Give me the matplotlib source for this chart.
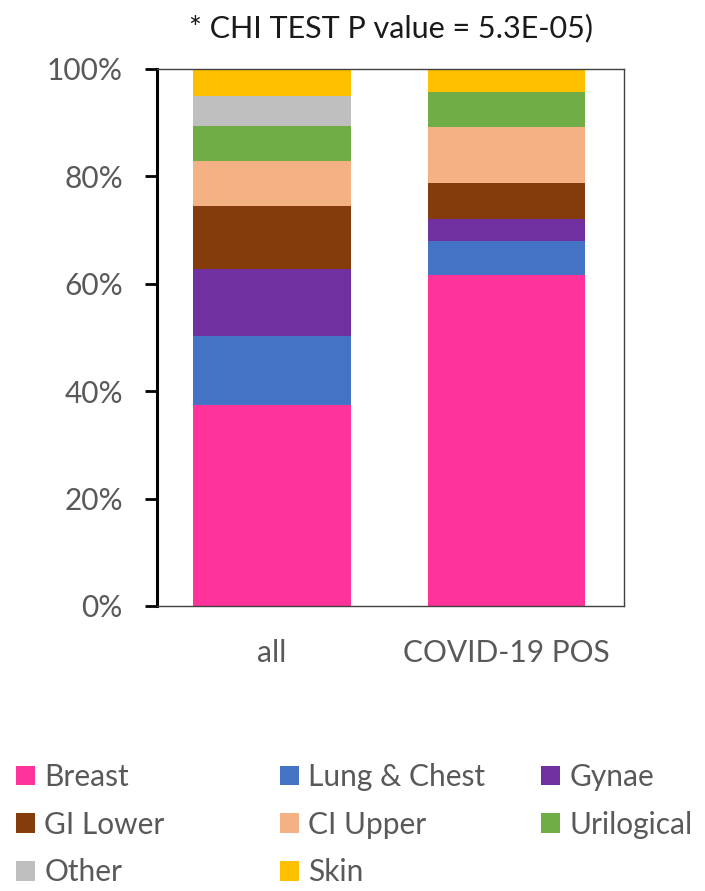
import matplotlib
matplotlib.use('Agg')
import matplotlib.pyplot as plt
import matplotlib.patches as patches
import numpy as np

plt.rcParams['font.family'] = ['Lato', 'DejaVu Sans']

# Data (percent of each group)
groups = ['all', 'COVID-19 POS']
categories = ['Breast', 'Lung & Chest', 'Gynae', 'GI Lower', 'CI Upper',
              'Urilogical', 'Other', 'Skin']
all_vals = [37.4, 12.9, 12.4, 11.8, 8.4, 6.5, 5.6, 5.0]
covid_vals = [61.7, 6.3, 4.1, 6.7, 10.3, 6.6, 0.0, 4.3]
yticks = [0, 20, 40, 60, 80, 100]
title = '* CHI TEST P value = 5.3E-05)'

colors = ['#FF3399', '#4472C4', '#7030A0', '#843C0C', '#F4B183',
          '#70AD47', '#BFBFBF', '#FFC000']
text_gray = '#595959'
fs = 21.5

fig = plt.figure(figsize=(7.05, 8.91), dpi=100)
ax = fig.add_axes([0.2227, 0.3199, 0.6624, 0.6027])

x = np.arange(len(groups))
bottom = np.zeros(len(groups))
handles = []
for i, cat in enumerate(categories):
    vals = np.array([all_vals[i], covid_vals[i]])
    ax.bar(x, vals, width=0.67, bottom=bottom, color=colors[i], linewidth=0)
    bottom += vals
    handles.append(patches.Patch(facecolor=colors[i], label=cat))

ax.set_xlim(-0.49, 1.5)
ax.set_ylim(0, 100)
ax.set_yticks(yticks)
ax.set_yticklabels([f'{v}%' for v in yticks], fontsize=fs, color=text_gray)
ax.set_xticks(x)
ax.set_xticklabels(groups, fontsize=fs, color=text_gray)
ax.tick_params(axis='x', length=0, pad=24)
ax.tick_params(axis='y', length=8.5, width=2, direction='out', pad=16, color='black')

for side in ['top', 'right', 'bottom']:
    ax.spines[side].set_color('#404040')
    ax.spines[side].set_linewidth(1.0)
ax.spines['left'].set_color('black')
ax.spines['left'].set_linewidth(2.2)

fig.text(391 / 705, 1 - 28 / 891, title, ha='center', va='center',
         fontsize=22, color='#1a1a1a')

# one legend per column so the columns sit where they do in the original
columns = [[0, 3, 6], [1, 4, 7], [2, 5]]
col_x = [16, 280, 541]
for idx, cx in zip(columns, col_x):
    leg = fig.legend([handles[i] for i in idx], [categories[i] for i in idx],
                     loc='upper left', bbox_to_anchor=(cx / 705, 1 - 763 / 891),
                     frameon=False, fontsize=fs, labelcolor=text_gray,
                     handlelength=0.65, handleheight=0.65, handletextpad=0.3,
                     labelspacing=0.66, borderpad=0, borderaxespad=0)

fig.savefig('out.png', dpi=100)
